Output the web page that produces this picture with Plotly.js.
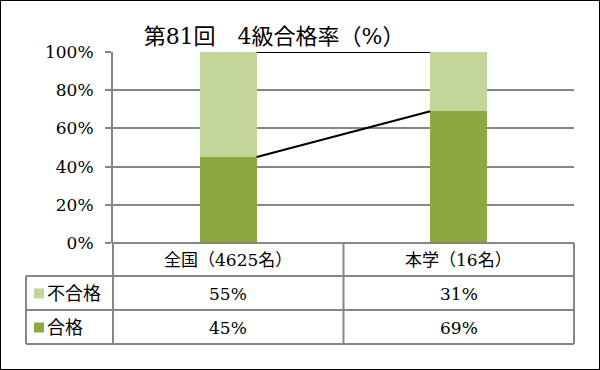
<!DOCTYPE html>
<html><head><meta charset="utf-8">
<script src="https://cdn.plot.ly/plotly-3.0.1.min.js"></script>
<style>html,body{margin:0;padding:0;background:#fff}#c{width:600px;height:370px;box-sizing:border-box;border:1px solid #000}</style>
</head><body><div id="c"><div id="plot"></div></div>
<script>
const categories = ['全国（4625名）', '本学（16名）'];
const seriesNames = ['合格', '不合格'];
const passRate = [45, 69];
const failRate = [55, 31];
const colors = {'合格': '#8CA83F', '不合格': '#C3D599'};
const FONT = '"DejaVu Serif", "Noto Sans CJK JP", serif';

const W = 598, H = 368, L = 112, T = 51, R = 25, B = 126;
const pw = W - L - R, ph = H - T - B;
const xp = px => (px - 1 - L) / pw;
const yp = py => 1 - (py - 1 - T) / ph;

const xs = categories.map((_, i) => i);
const barW = 0.247;

const traces = [
  {type: 'bar', x: xs, y: passRate, name: '合格', width: barW, marker: {color: colors['合格']}, hoverinfo: 'skip'},
  {type: 'bar', x: xs, y: failRate, name: '不合格', width: barW, marker: {color: colors['不合格']}, hoverinfo: 'skip'}
];
// series lines connecting tops of segments
const cumPass = passRate.slice();
const cumTotal = passRate.map((v, i) => v + failRate[i]);
[cumPass, cumTotal].forEach(arr => {
  for (let i = 0; i < xs.length - 1; i++) {
    traces.push({type: 'scatter', mode: 'lines', x: [xs[i] + barW / 2, xs[i + 1] - barW / 2], y: [arr[i], arr[i + 1]],
      line: {color: '#000', width: 2}, hoverinfo: 'skip', showlegend: false});
  }
});

const gray = '#868686';
const shapes = [];
const line = (x0, y0, x1, y1) => shapes.push({type: 'line', xref: 'paper', yref: 'paper', x0: xp(x0), y0: yp(y0), x1: xp(x1), y1: yp(y1), line: {color: gray, width: 2}, layer: 'above'});
// table lines
line(113, 243, 574, 243);
line(26, 276, 574, 276);
line(26, 310, 574, 310);
line(26, 344, 574, 344);
line(26, 276, 26, 344);
line(113, 243, 113, 344);
line(343.5, 243, 343.5, 344);
line(574, 243, 574, 344);

const annotations = [];
const colCenter = i => 113 + (i + 0.5) * (461 / categories.length);
const tf = {family: FONT, size: 17, color: '#000'};
categories.forEach((c, i) => {
  annotations.push({xref: 'paper', yref: 'paper', x: xp(colCenter(i)), y: yp(260), text: c, showarrow: false, xanchor: 'center', yanchor: 'middle', font: tf});
  annotations.push({xref: 'paper', yref: 'paper', x: xp(colCenter(i)), y: yp(293.5), text: failRate[i] + '%', showarrow: false, xanchor: 'center', yanchor: 'middle', font: tf});
  annotations.push({xref: 'paper', yref: 'paper', x: xp(colCenter(i)), y: yp(327.5), text: passRate[i] + '%', showarrow: false, xanchor: 'center', yanchor: 'middle', font: tf});
});
const rowLabels = [['不合格', 293.5], ['合格', 327.5]];
rowLabels.forEach(([name, py]) => {
  shapes.push({type: 'rect', xref: 'paper', yref: 'paper', x0: xp(34), x1: xp(44), y0: yp(py - 5), y1: yp(py + 5), fillcolor: colors[name], line: {width: 0}});
  annotations.push({xref: 'paper', yref: 'paper', x: xp(45), y: yp(py), text: name, showarrow: false, xanchor: 'left', yanchor: 'middle', font: {family: FONT, size: 18, color: '#000'}});
});

const layout = {
  width: W, height: H,
  margin: {l: L, r: R, t: T, b: B, pad: 0},
  paper_bgcolor: '#fff', plot_bgcolor: '#fff',
  barmode: 'stack', showlegend: false,
  title: {text: '第81回　4級合格率（%）', xref: 'container', yref: 'container', x: 274 / 600, y: 1 - 35 / 370, xanchor: 'center', yanchor: 'middle', font: {family: FONT, size: 22, color: '#000'}},
  xaxis: {range: [-0.5, categories.length - 0.5], showticklabels: false, showgrid: false, zeroline: false, showline: false, ticks: '', fixedrange: true},
  yaxis: {range: [0, 100], dtick: 20, ticksuffix: '%', showgrid: true, gridcolor: gray, gridwidth: 2, zeroline: false,
    showline: true, linecolor: gray, linewidth: 2, ticks: 'outside', ticklen: 6, tickcolor: gray, tickwidth: 2, ticklabelstandoff: 8,
    tickfont: {family: FONT, size: 17, color: '#000'}, fixedrange: true},
  shapes, annotations
};
Plotly.newPlot('plot', traces, layout, {displayModeBar: false, staticPlot: true});
</script></body></html>
